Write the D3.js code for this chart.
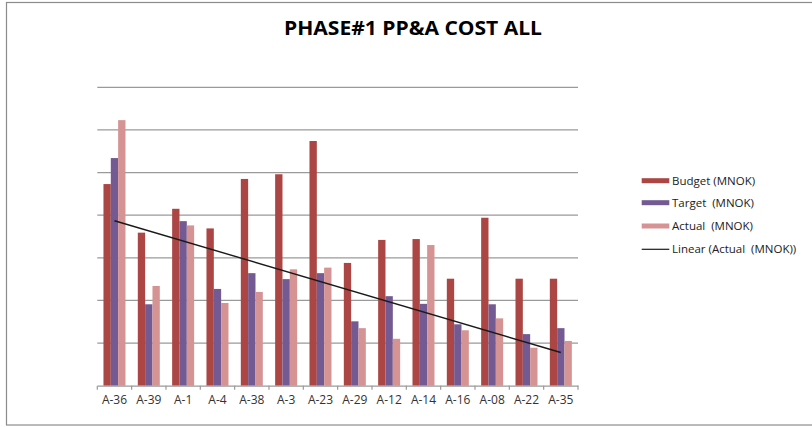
<!DOCTYPE html>
<html><head><meta charset="utf-8">
<script src="https://cdn.jsdelivr.net/npm/d3@7"></script>
<style>body{margin:0;background:#fff}svg{display:block}text{white-space:pre}</style>
</head><body>
<svg id="c" width="812" height="427"></svg>
<script>
const categories = ["A-36","A-39","A-1","A-4","A-38","A-3","A-23","A-29","A-12","A-14","A-16","A-08","A-22","A-35"];
const budget = [4.73,3.59,4.15,3.69,4.85,4.96,5.74,2.88,3.42,3.44,2.51,3.94,2.51,2.51];
const target = [5.34,1.91,3.86,2.27,2.64,2.50,2.64,1.51,2.10,1.92,1.44,1.91,1.21,1.35];
const actual = [6.23,2.34,3.76,1.94,2.20,2.73,2.77,1.35,1.10,3.30,1.30,1.58,0.89,1.05];
const yTicks = [0,1,2,3,4,5,6,7];
const seriesNames = ["Budget (MNOK)","Target  (MNOK)","Actual  (MNOK)"];
const trendName = "Linear (Actual  (MNOK))";
const colors = ["#AB4644","#735A93","#D59493"];

const svg = d3.select("#c");
const m = {l:97.3, r:578, t:87.3, b:385.7};
const x = d3.scaleBand().domain(categories).range([m.l, m.r]).paddingInner(0).paddingOuter(0);
const y = d3.scaleLinear().domain([0,7]).range([m.b, m.t]);
const inner = d3.scaleBand().domain([0,1,2]).range([0, 22]);

// border
svg.append("rect").attr("x",6.5).attr("y",2.5).attr("width",812).attr("height",422.5)
  .attr("fill","none").attr("stroke","#8c8c8c").attr("stroke-width",1.2);

// title
svg.append("text").attr("x",284).attr("y",35)
  .attr("font-family","'Open Sans', sans-serif").attr("font-weight","bold")
  .attr("font-size",20).attr("fill","#000")
  .attr("textLength",258).attr("lengthAdjust","spacingAndGlyphs")
  .text("PHASE#1 PP&A COST ALL");

// gridlines
svg.append("g").selectAll("line").data(yTicks.slice(1)).join("line")
  .attr("x1",m.l).attr("x2",m.r).attr("y1",d=>y(d)).attr("y2",d=>y(d))
  .attr("stroke","#9a9a9a").attr("stroke-width",1.2);

// bars
const series = [budget,target,actual];
const groupOff = (x.bandwidth()-22)/2;
series.forEach((s,si)=>{
  svg.append("g").selectAll("rect").data(s).join("rect")
    .attr("x",(d,i)=>x(categories[i])+groupOff+inner(si))
    .attr("width",inner.bandwidth())
    .attr("y",d=>y(d)).attr("height",d=>y(0)-y(d))
    .attr("fill",colors[si]);
});

// x axis
const xAxis = d3.axisBottom(x).tickSize(0).tickPadding(10);
const gx = svg.append("g").attr("transform",`translate(0,${m.b})`).call(xAxis);
gx.select(".domain").attr("stroke","#9a9a9a").attr("stroke-width",1.2);
gx.selectAll("text").attr("font-family","'Open Sans', sans-serif").attr("font-size",12).attr("fill","#333");
const bounds = categories.map(c=>x(c)).concat([m.r]);
gx.selectAll("line.b").data(bounds).join("line").attr("class","b")
  .attr("x1",d=>d).attr("x2",d=>d).attr("y1",0).attr("y2",4)
  .attr("stroke","#9a9a9a").attr("stroke-width",1.2);

// linear trend of actual
const n = actual.length;
const xs = d3.range(1,n+1);
const mx = d3.mean(xs), my = d3.mean(actual);
const slope = d3.sum(xs,(v,i)=>(v-mx)*(actual[i]-my))/d3.sum(xs,v=>(v-mx)*(v-mx));
const icpt = my - slope*mx;
const trend = [1,n].map(v=>({c:categories[v-1], v:icpt+slope*v}));
svg.append("path").datum(trend)
  .attr("d",d3.line().x(d=>x(d.c)+x.bandwidth()/2).y(d=>y(d.v)))
  .attr("fill","none").attr("stroke","#1a1a1a").attr("stroke-width",1.4);

// legend
const lg = svg.append("g");
const ly = [180.7,202.7,226,249.3];
seriesNames.forEach((nm,i)=>{
  lg.append("rect").attr("x",641.7).attr("y",ly[i]-2.5).attr("width",27.6).attr("height",5).attr("fill",colors[i]);
  lg.append("text").attr("x",672).attr("y",ly[i]).attr("dy","0.35em")
    .attr("font-family","'Open Sans', sans-serif").attr("font-size",11.5).attr("fill","#222").text(nm);
});
lg.append("line").attr("x1",641.7).attr("x2",669.3).attr("y1",ly[3]).attr("y2",ly[3]).attr("stroke","#1a1a1a").attr("stroke-width",1.2);
lg.append("text").attr("x",672).attr("y",ly[3]).attr("dy","0.35em")
  .attr("font-family","'Open Sans', sans-serif").attr("font-size",11.5).attr("fill","#222").text(trendName);
</script>
</body></html>
